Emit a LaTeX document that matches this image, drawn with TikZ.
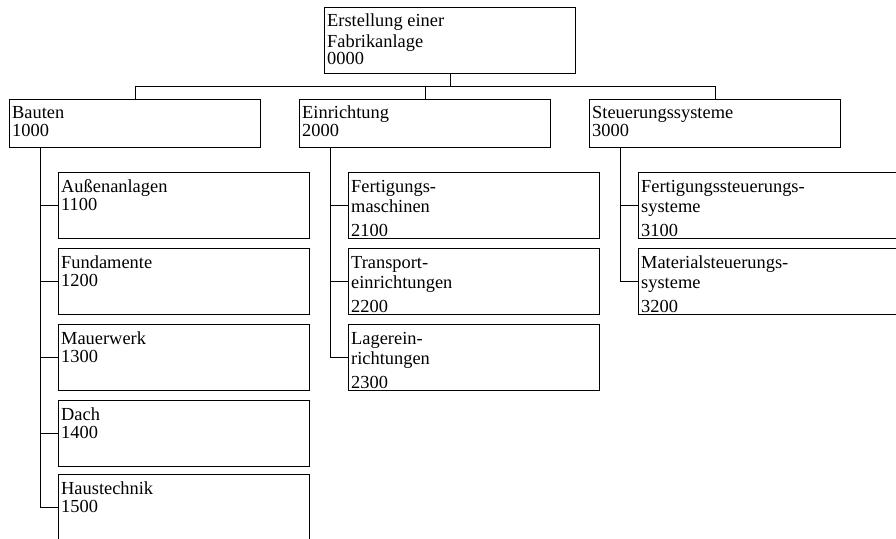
\documentclass[tikz,border=0pt]{standalone}
\usepackage{fontspec}
\setmainfont{Liberation Serif}
\begin{document}
\begin{tikzpicture}[x=1pt,y=-1pt,
  box/.style={draw,line width=1pt,rectangle,anchor=north west,inner sep=0pt,minimum width=251pt,minimum height=#1},
  box/.default=66pt,
  widebox/.style={box,minimum width=275pt},
  txt/.style={anchor=base west,inner sep=0pt,font=\fontsize{18.4}{20}\selectfont},
  conn/.style={line width=1pt}]
\clip (0,0) rectangle (896,538);
% boxes
\node[box] (root) at (324,7) {};
\node[box=48pt] (b1) at (9,99) {};
\node[box=48pt] (e1) at (299,99) {};
\node[box=48pt] (s1) at (589,99) {};
\node[box] (b11) at (58,172) {};
\node[box] (b12) at (58,248) {};
\node[box] (b13) at (58,324) {};
\node[box] (b14) at (58,400) {};
\node[box] (b15) at (58,474) {};
\node[box] (e21) at (348,172) {};
\node[box] (e22) at (348,248) {};
\node[box] (e23) at (348,324) {};
\node[widebox] (s31) at (638,172) {};
\node[widebox] (s32) at (638,248) {};
% texts
\node[txt] (troota) at ([shift={(3,20)}]root.north west) {Erstellung einer};
\node[txt] (trootb) at ([shift={(3,40)}]root.north west) {Fabrikanlage};
\node[txt] (trootc) at ([shift={(3,57)}]root.north west) {0000};
\node[txt] (tb1a) at ([shift={(3,19)}]b1.north west) {Bauten};
\node[txt] (tb1b) at ([shift={(3,37)}]b1.north west) {1000};
\node[txt] (te1a) at ([shift={(3,19)}]e1.north west) {Einrichtung};
\node[txt] (te1b) at ([shift={(3,37)}]e1.north west) {2000};
\node[txt] (ts1a) at ([shift={(3,19)}]s1.north west) {Steuerungssysteme};
\node[txt] (ts1b) at ([shift={(3,37)}]s1.north west) {3000};
\node[txt] (tb11a) at ([shift={(3,20)}]b11.north west) {Außenanlagen};
\node[txt] (tb11b) at ([shift={(3,38)}]b11.north west) {1100};
\node[txt] (tb12a) at ([shift={(3,20)}]b12.north west) {Fundamente};
\node[txt] (tb12b) at ([shift={(3,38)}]b12.north west) {1200};
\node[txt] (tb13a) at ([shift={(3,20)}]b13.north west) {Mauerwerk};
\node[txt] (tb13b) at ([shift={(3,38)}]b13.north west) {1300};
\node[txt] (tb14a) at ([shift={(3,20)}]b14.north west) {Dach};
\node[txt] (tb14b) at ([shift={(3,38)}]b14.north west) {1400};
\node[txt] (tb15a) at ([shift={(3,20)}]b15.north west) {Haustechnik};
\node[txt] (tb15b) at ([shift={(3,38)}]b15.north west) {1500};
\node[txt] (te21a) at ([shift={(3,20)}]e21.north west) {Fertigungs-};
\node[txt] (te21b) at ([shift={(3,40)}]e21.north west) {maschinen};
\node[txt] (te21c) at ([shift={(3,64)}]e21.north west) {2100};
\node[txt] (te22a) at ([shift={(3,20)}]e22.north west) {Transport-};
\node[txt] (te22b) at ([shift={(3,40)}]e22.north west) {einrichtungen};
\node[txt] (te22c) at ([shift={(3,64)}]e22.north west) {2200};
\node[txt] (te23a) at ([shift={(3,20)}]e23.north west) {Lagerein-};
\node[txt] (te23b) at ([shift={(3,40)}]e23.north west) {richtungen};
\node[txt] (te23c) at ([shift={(3,64)}]e23.north west) {2300};
\node[txt] (ts31a) at ([shift={(3,20)}]s31.north west) {Fertigungssteuerungs-};
\node[txt] (ts31b) at ([shift={(3,40)}]s31.north west) {systeme};
\node[txt] (ts31c) at ([shift={(3,64)}]s31.north west) {3100};
\node[txt] (ts32a) at ([shift={(3,20)}]s32.north west) {Materialsteuerungs-};
\node[txt] (ts32b) at ([shift={(3,40)}]s32.north west) {systeme};
\node[txt] (ts32c) at ([shift={(3,64)}]s32.north west) {3200};
% connectors
\coordinate (bus) at (449,86);
\draw[conn] (root.south) -- (root.south |- bus);
\draw[conn] (b1.north) -- (b1.north |- bus) -- (s1.north |- bus) -- (s1.north);
\draw[conn] (e1.north) -- (e1.north |- bus);
\coordinate (bsp) at (40,147);
\coordinate (esp) at (330,147);
\coordinate (ssp) at (620,147);
\draw[conn] (bsp) |- (b15.west);
\foreach \c in {b11,b12,b13,b14} \draw[conn] (bsp |- \c.west) -- (\c.west);
\draw[conn] (esp) |- (e23.west);
\foreach \c in {e21,e22} \draw[conn] (esp |- \c.west) -- (\c.west);
\draw[conn] (ssp) |- (s32.west);
\draw[conn] (ssp |- s31.west) -- (s31.west);
\end{tikzpicture}
\end{document}
